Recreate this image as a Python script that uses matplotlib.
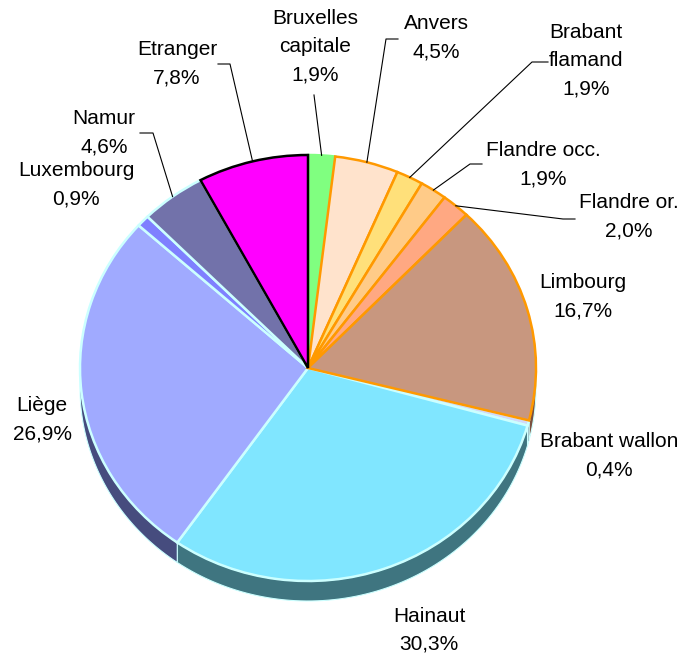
import numpy as np
import matplotlib.pyplot as plt
from matplotlib.patches import Polygon

plt.rcParams['font.family'] = ['Liberation Sans', 'DejaVu Sans']

# données (répartition par province, %)
regions = ['Bruxelles\ncapitale', 'Anvers', 'Brabant\nflamand', 'Flandre occ.', 'Flandre or.',
           'Limbourg', 'Brabant wallon', 'Hainaut', 'Liège', 'Luxembourg', 'Namur', 'Etranger']
shares = [1.9, 4.5, 1.9, 1.9, 2.0, 16.7, 0.4, 30.3, 26.9, 0.9, 4.6, 7.8]
share_txt = ['1,9%', '4,5%', '1,9%', '1,9%', '2,0%', '16,7%', '0,4%', '30,3%', '26,9%', '0,9%', '4,6%', '7,8%']

top_colors = ['#80FF80', '#FFE3CC', '#FFE07A', '#FFCB88', '#FFA882', '#C8977F',
              '#D2D8F8', '#80E6FF', '#A0AAFF', '#7F80FF', '#7272AA', '#FF00FF']
side_colors = ['#408040', '#807266', '#80703D', '#806644', '#805441', '#7A5040',
               '#5A6072', '#3F7580', '#464C7E', '#404080', '#3B3B58', '#800080']
edge_colors = ['#80FF80', '#FF9900', '#FF9900', '#FF9900', '#FF9900', '#FF9900',
               '#CCFFFF', '#CCFFFF', '#CCFFFF', '#CCFFFF', '#CCFFFF', '#000000']

# mise en page (pixels depuis le coin haut-gauche)
W, H = 683, 657
CX, CY, RX, RY = 308, 368, 228, 213
DEPTH = 20 / RY

label_pos = [(315, 47), (436, 38), (586, 61), (543, 165), (629, 217), (583, 297),
             (609, 456), (429, 630), (42, 420), (76, 185), (104, 133), (177, 64)]
leaders = {0: [(314, 95)], 1: [(398, 39), (386, 39)], 2: [(548, 62), (532, 62)],
           3: [(482, 164), (470, 164)], 4: [(575, 219), (563, 219)],
           10: [(140, 133), (153, 133)], 11: [(218, 64), (230, 64)]}


def to_data(px, py):
    return (px - CX) / RX, (CY - py) / RY


fig = plt.figure(figsize=(W / 100, H / 100), dpi=100)
ax = fig.add_axes([0, 0, 1, 1])

wedges, _ = ax.pie(shares, colors=top_colors, startangle=90, counterclock=False,
                   wedgeprops=dict(linewidth=1.8))
ax.set_aspect('auto')
ax.set_xlim((0 - CX) / RX, (W - CX) / RX)
ax.set_ylim((CY - H) / RY, CY / RY)
ax.axis('off')

for i, w in enumerate(wedges):
    w.set_edgecolor(edge_colors[i])
    w.set_zorder({'#FF9900': 4, '#000000': 5}.get(edge_colors[i], 3))
    # côté (épaisseur) visible sur la moitié basse
    for shift in (0, 360, -360):
        lo = max(w.theta1 + shift, 180)
        hi = min(w.theta2 + shift, 360)
        if hi > lo:
            t = np.radians(np.linspace(lo, hi, 80))
            top = np.column_stack([np.cos(t), np.sin(t)])
            bot = top[::-1] - [0, DEPTH]
            ax.add_patch(Polygon(np.vstack([top, bot]), closed=True, facecolor=side_colors[i],
                                 edgecolor='#CCFFFF', linewidth=0.8, zorder=1))

for i, w in enumerate(wedges):
    x, y = to_data(*label_pos[i])
    ax.text(x, y, regions[i] + '\n' + share_txt[i], ha='center', va='center',
            multialignment='center', fontsize=15, linespacing=1.6, zorder=6)
    if i in leaders:
        mid = np.radians((w.theta1 + w.theta2) / 2)
        pts = [to_data(*p) for p in leaders[i]] + [(np.cos(mid), np.sin(mid))]
        xs, ys = zip(*pts)
        ax.plot(xs, ys, color='black', linewidth=0.8, zorder=6)

fig.savefig('out.png', dpi=100)
